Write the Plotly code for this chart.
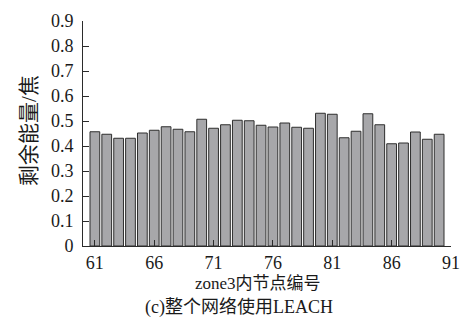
import plotly.graph_objects as go

# Residual energy of each node in zone 3 when the whole network runs LEACH
node_ids = list(range(61, 91))
residual_energy = [
    0.457, 0.447, 0.431, 0.431, 0.452, 0.463, 0.477, 0.467, 0.457, 0.507,
    0.471, 0.485, 0.503, 0.501, 0.483, 0.476, 0.492, 0.475, 0.471, 0.531,
    0.527, 0.433, 0.459, 0.529, 0.485, 0.409, 0.412, 0.456, 0.427, 0.447,
]
x_ticks = [61, 66, 71, 76, 81, 86, 91]
y_ticks = [0, 0.1, 0.2, 0.3, 0.4, 0.5, 0.6, 0.7, 0.8, 0.9]

serif = "Liberation Serif"
cjk = "Liberation Serif, Noto Sans CJK SC"
text_color = "#1a1a1a"
axis_color = "#2b2b2b"

fig = go.Figure(
    go.Bar(
        x=node_ids,
        y=residual_energy,
        width=0.82,
        marker=dict(color="#a7a7aa", line=dict(color="#2e2e2e", width=1)),
    )
)

fig.update_layout(
    width=471,
    height=333,
    margin=dict(l=83, r=11, t=20, b=87),
    paper_bgcolor="white",
    plot_bgcolor="white",
    showlegend=False,
    font=dict(family=serif, size=18, color=text_color),
    annotations=[
        dict(text="zone3内节点编号", x=0.475, y=-0.168, xref="paper", yref="paper",
             showarrow=False, font=dict(family=cjk, size=17, color=text_color),
             xanchor="center", yanchor="middle"),
        dict(text="(c)整个网络使用LEACH", x=0.424, y=-0.272, xref="paper", yref="paper",
             showarrow=False, font=dict(family=cjk, size=18, color=text_color),
             xanchor="center", yanchor="middle"),
        dict(text="剩余能量/焦", x=-0.1485, y=0.513, xref="paper", yref="paper",
             showarrow=False, textangle=-90, font=dict(family=cjk, size=21, color=text_color),
             xanchor="center", yanchor="middle"),
    ],
)

axis_style = dict(
    ticks="inside",
    ticklen=6,
    tickcolor=axis_color,
    showline=True,
    linecolor=axis_color,
    linewidth=1,
    showgrid=False,
    zeroline=False,
    tickfont=dict(family=serif, size=18, color=text_color),
)

fig.update_xaxes(
    range=[60, 91],
    tickvals=x_ticks,
    ticktext=[str(v) for v in x_ticks],
    **axis_style,
)
fig.update_yaxes(
    range=[0, 0.9],
    tickvals=y_ticks,
    ticktext=["0" if v == 0 else f"{v:.1f}" for v in y_ticks],
    ticklabelstandoff=5,
    **axis_style,
)

fig.write_html("out.html")
